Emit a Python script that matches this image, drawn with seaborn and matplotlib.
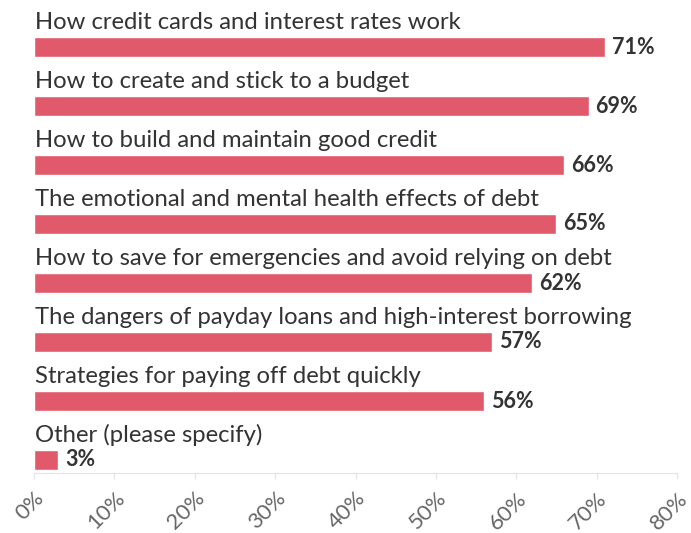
import matplotlib
matplotlib.use("Agg")
import matplotlib.pyplot as plt
import seaborn as sns
import pandas as pd

# Survey topics and the share of respondents choosing each one (%)
topics = [
    "How credit cards and interest rates work",
    "How to create and stick to a budget",
    "How to build and maintain good credit",
    "The emotional and mental health effects of debt",
    "How to save for emergencies and avoid relying on debt",
    "The dangers of payday loans and high-interest borrowing",
    "Strategies for paying off debt quickly",
    "Other (please specify)",
]
shares = [71, 69, 66, 65, 62, 57, 56, 3]

x_ticks = [0, 10, 20, 30, 40, 50, 60, 70, 80]
x_tick_labels = ["0%", "10%", "20%", "30%", "40%", "50%", "60%", "70%", "80%"]

BAR_COLOR = "#E05A6B"
TEXT_COLOR = "#333333"

sns.set_theme(style="white")
plt.rcParams["font.family"] = ["Lato", "DejaVu Sans"]

fig = plt.figure(figsize=(6.91, 5.33), dpi=100)
ax = fig.add_axes([34 / 691, 60 / 533, 643 / 691, 473 / 533])

df = pd.DataFrame({"topic": topics, "share": shares})
sns.barplot(data=df, x="share", y="topic", color=BAR_COLOR, saturation=1,
            width=0.34, ax=ax)

ax.set_xlim(0, 80)
ax.set_ylim(7 + 13 / 59, -47 / 59)

# Topic names sit above their bars, values at the bar ends
for i, (topic, share) in enumerate(zip(topics, shares)):
    ax.text(0.1, i - 0.30, topic, ha="left", va="baseline",
            fontsize=17.2, color=TEXT_COLOR)
    ax.annotate(f"{share}%", xy=(share, i), xytext=(5, 0),
                textcoords="offset points", ha="left", va="center",
                fontsize=15.5, fontweight="bold", color=TEXT_COLOR)

ax.set_xticks(x_ticks, labels=x_tick_labels, rotation=45, ha="right",
              va="top", rotation_mode="anchor")
ax.set_yticks([])
ax.set_xlabel("")
ax.set_ylabel("")
ax.tick_params(axis="x", length=4, width=0.8, color="#e3e3e3",
               labelsize=16, labelcolor="#666666", pad=7, bottom=True)

for side in ["top", "right", "left"]:
    ax.spines[side].set_visible(False)
ax.spines["bottom"].set_color("#e3e3e3")
ax.spines["bottom"].set_linewidth(0.8)

fig.savefig("out.png", dpi=100)
